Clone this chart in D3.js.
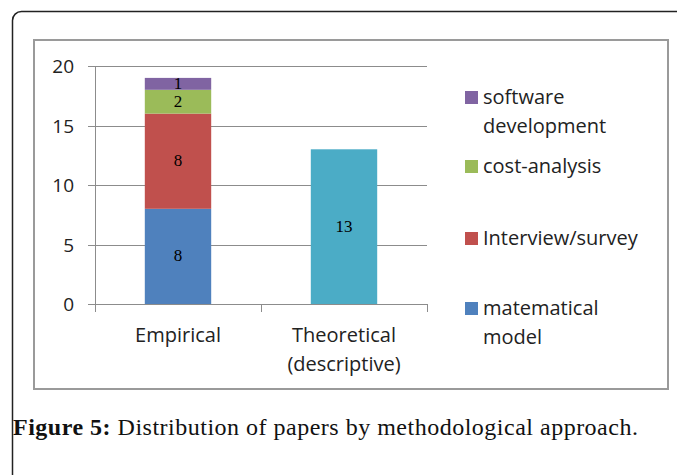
<!DOCTYPE html>
<html>
<head>
  <meta charset="utf-8">
  <script src="https://cdn.jsdelivr.net/npm/d3@7"></script>
  <style>
    body { margin: 0; background: #fff; }
  </style>
</head>
<body>
  <script>
    // data
    var categories = ['Empirical', 'Theoretical (descriptive)'];
    var seriesNames = ['matematical model', 'Interview/survey', 'cost-analysis', 'software development'];
    var empiricalValues = [8, 8, 2, 1];
    var theoreticalValues = [13];
    var yTicks = [0, 5, 10, 15, 20];

    var colors = ['#4f81bd', '#c0504d', '#9bbb59', '#8064a2'];
    var theoColor = '#4bacc6';

    var width = 677, height = 475;
    var svg = d3.select('body').append('svg')
      .attr('width', width)
      .attr('height', height);

    // outer rounded frame (runs off the right and bottom)
    svg.append('rect')
      .attr('x', 12.5).attr('y', 11.5)
      .attr('width', 700).attr('height', 500)
      .attr('rx', 9)
      .attr('fill', 'none')
      .attr('stroke', '#222')
      .attr('stroke-width', 1.5);

    // chart box
    svg.append('rect')
      .attr('x', 34).attr('y', 40)
      .attr('width', 634).attr('height', 349)
      .attr('fill', '#fff')
      .attr('stroke', '#9a9a9a')
      .attr('stroke-width', 2);

    var plotLeft = 95, plotRight = 427, plotTop = 66, plotBottom = 304;
    var uiFont = 'Open Sans, sans-serif';

    var x = d3.scaleBand()
      .domain(categories)
      .range([plotLeft, plotRight])
      .paddingInner(0.6)
      .paddingOuter(0.3);

    var y = d3.scaleLinear()
      .domain([0, 20])
      .range([plotBottom, plotTop]);

    // gridlines
    svg.append('g').selectAll('line')
      .data(yTicks)
      .enter().append('line')
      .attr('x1', plotLeft - 7).attr('x2', plotRight)
      .attr('y1', function (d) { return Math.round(y(d)) + 0.5; })
      .attr('y2', function (d) { return Math.round(y(d)) + 0.5; })
      .attr('stroke', '#8c8c8c');

    // y axis line
    svg.append('line')
      .attr('x1', plotLeft + 0.5).attr('x2', plotLeft + 0.5)
      .attr('y1', plotTop).attr('y2', plotBottom)
      .attr('stroke', '#8c8c8c');

    // x axis ticks at band edges
    var edges = [plotLeft, (plotLeft + plotRight) / 2, plotRight];
    svg.append('g').selectAll('line')
      .data(edges)
      .enter().append('line')
      .attr('x1', function (d) { return Math.round(d) + 0.5; })
      .attr('x2', function (d) { return Math.round(d) + 0.5; })
      .attr('y1', plotBottom).attr('y2', plotBottom + 8)
      .attr('stroke', '#8c8c8c');

    // y tick labels
    svg.append('g').selectAll('text')
      .data(yTicks)
      .enter().append('text')
      .attr('x', 74)
      .attr('y', function (d) { return y(d) + 7; })
      .attr('text-anchor', 'end')
      .attr('font-family', uiFont)
      .attr('font-size', 19)
      .attr('fill', '#222')
      .text(function (d) { return d; });

    // stacked empirical bar
    var stack = [];
    var acc = 0;
    empiricalValues.forEach(function (v, i) {
      stack.push({ y0: acc, y1: acc + v, v: v, c: colors[i] });
      acc += v;
    });

    var bars = svg.append('g');
    bars.selectAll('rect.emp')
      .data(stack)
      .enter().append('rect')
      .attr('class', 'emp')
      .attr('x', x(categories[0]))
      .attr('width', x.bandwidth())
      .attr('y', function (d) { return y(d.y1); })
      .attr('height', function (d) { return y(d.y0) - y(d.y1); })
      .attr('fill', function (d) { return d.c; });

    bars.selectAll('rect.theo')
      .data(theoreticalValues)
      .enter().append('rect')
      .attr('class', 'theo')
      .attr('x', x(categories[1]))
      .attr('width', x.bandwidth())
      .attr('y', function (d) { return y(d); })
      .attr('height', function (d) { return y(0) - y(d); })
      .attr('fill', theoColor);

    // value labels
    var lbl = svg.append('g')
      .attr('font-family', 'Liberation Serif, serif')
      .attr('font-size', 17)
      .attr('text-anchor', 'middle')
      .attr('fill', '#000');

    lbl.selectAll('text.emp')
      .data(stack)
      .enter().append('text')
      .attr('x', x(categories[0]) + x.bandwidth() / 2)
      .attr('y', function (d) { return y((d.y0 + d.y1) / 2) + 5; })
      .text(function (d) { return d.v; });

    lbl.selectAll('text.theo')
      .data(theoreticalValues)
      .enter().append('text')
      .attr('x', x(categories[1]) + x.bandwidth() / 2)
      .attr('y', function (d) { return y(d / 2) + 5; })
      .text(function (d) { return d; });

    // category labels
    var catLines = [['Empirical'], ['Theoretical', '(descriptive)']];
    var cat = svg.append('g')
      .attr('font-family', uiFont)
      .attr('font-size', 20)
      .attr('fill', '#222')
      .attr('text-anchor', 'middle');
    catLines.forEach(function (lines, i) {
      lines.forEach(function (t, j) {
        cat.append('text')
          .attr('x', x(categories[i]) + x.bandwidth() / 2)
          .attr('y', 342 + j * 29)
          .text(t);
      });
    });

    // legend (top to bottom: reverse of stack order)
    var legendItems = [
      { lines: ['software', 'development'], c: colors[3], y: 97 },
      { lines: ['cost-analysis'], c: colors[2], y: 166 },
      { lines: ['Interview/survey'], c: colors[1], y: 238 },
      { lines: ['matematical', 'model'], c: colors[0], y: 308 }
    ];
    var legend = svg.append('g')
      .attr('font-family', uiFont)
      .attr('font-size', 20)
      .attr('fill', '#222');
    legendItems.forEach(function (d) {
      legend.append('rect')
        .attr('x', 465).attr('y', d.y - 6)
        .attr('width', 13).attr('height', 13)
        .attr('fill', d.c);
      d.lines.forEach(function (t, j) {
        legend.append('text')
          .attr('x', 483)
          .attr('y', d.y + 7 + j * 29)
          .text(t);
      });
    });

    // caption
    var cap = svg.append('text')
      .attr('x', 13).attr('y', 435)
      .attr('font-family', 'Liberation Serif, serif')
      .attr('font-size', 24)
      .attr('letter-spacing', 0.5)
      .attr('fill', '#111');
    cap.append('tspan').attr('font-weight', 'bold').text('Figure 5:');
    cap.append('tspan').text(' Distribution of papers by methodological approach.');
  </script>
</body>
</html>
